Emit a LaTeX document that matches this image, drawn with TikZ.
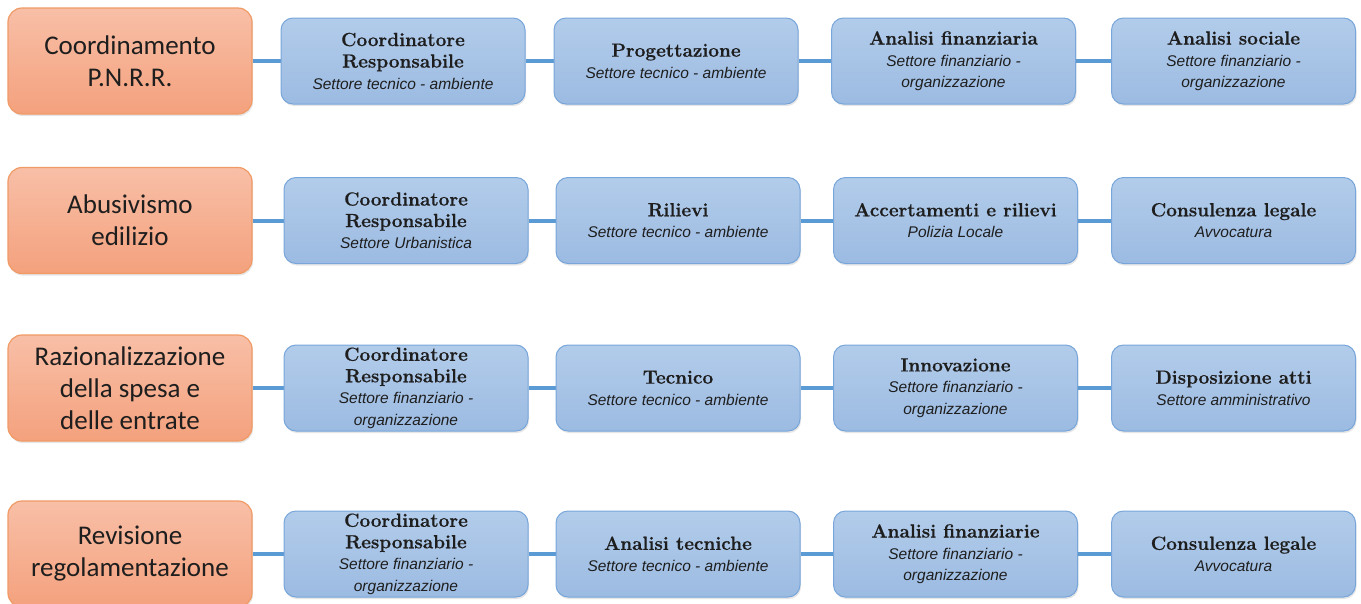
\documentclass[tikz,border=0pt]{standalone}
\usepackage{fontspec}
\setmainfont{Latin Modern Roman}[BoldFeatures={FakeBold=0.6}]
\newfontfamily\orf{Carlito}
\newfontfamily\subf{Liberation Sans}
\usetikzlibrary{backgrounds,shadows}
\definecolor{orTop}{HTML}{F8BFA7}
\definecolor{orBot}{HTML}{F4A17D}
\definecolor{orLine}{HTML}{F09A66}
\definecolor{blTop}{HTML}{B2CCEA}
\definecolor{blBot}{HTML}{9CBBE2}
\definecolor{blLine}{HTML}{78A6DA}
\definecolor{conn}{HTML}{5B9BD5}
\definecolor{txt}{HTML}{1E1E1E}
\newcommand\subt[1]{{\subf\mdseries\itshape\fontsize{15.5}{21}\selectfont #1}}
\tikzset{
  topic/.style={rounded corners=14pt, draw=orLine, line width=1.2pt,
    top color=orTop, bottom color=orBot, minimum width=244pt, minimum height=106pt,
    inner sep=0pt, align=center, text=txt, font=\orf\fontsize{27}{32}\selectfont,
    drop shadow={shadow xshift=1pt, shadow yshift=-2pt, opacity=0.2}},
  task/.style={rounded corners=12pt, draw=blLine, line width=1pt,
    top color=blTop, bottom color=blBot, minimum width=244pt, minimum height=86pt,
    inner sep=0pt, align=center, text=txt, font=\fontsize{19}{21.5}\selectfont\bfseries,
    drop shadow={shadow xshift=1pt, shadow yshift=-2pt, opacity=0.2}},
  link/.style={draw=conn, line width=4pt}
}
\begin{document}
\begin{tikzpicture}[x=1pt,y=-1pt]
\useasboundingbox (0,0) rectangle (1361,603);
% Row 1
\node[topic] (o1) at (130,61) {Coordinamento\\P.N.R.R.};
\node[task] (a1) at (403,61) {Coordinatore\\Responsabile\\\subt{Settore tecnico - ambiente}};
\node[task] (b1) at (676,61) {Progettazione\\\subt{Settore tecnico - ambiente}};
\node[task] (c1) at (953.5,61) {Analisi finanziaria\\\subt{Settore finanziario -}\\\subt{organizzazione}};
\node[task] (d1) at (1233.5,61) {Analisi sociale\\\subt{Settore finanziario -}\\\subt{organizzazione}};
% Row 2
\node[topic] (o2) at (130,220.5) {Abusivismo\\edilizio};
\node[task] (a2) at (406,220.5) {Coordinatore\\Responsabile\\\subt{Settore Urbanistica}};
\node[task] (b2) at (678,220.5) {Rilievi\\\subt{Settore tecnico - ambiente}};
\node[task] (c2) at (955.5,220.5) {Accertamenti e rilievi\\\subt{Polizia Locale}};
\node[task] (d2) at (1233.5,220.5) {Consulenza legale\\\subt{Avvocatura}};
% Row 3
\node[topic] (o3) at (130,388) {Razionalizzazione\\della spesa e\\delle entrate};
\node[task] (a3) at (406,388) {Coordinatore\\Responsabile\\\subt{Settore finanziario -}\\\subt{organizzazione}};
\node[task] (b3) at (678,388) {Tecnico\\\subt{Settore tecnico - ambiente}};
\node[task] (c3) at (955.5,388) {Innovazione\\\subt{Settore finanziario -}\\\subt{organizzazione}};
\node[task] (d3) at (1233.5,388) {Disposizione atti\\\subt{Settore amministrativo}};
% Row 4
\node[topic] (o4) at (130,554) {Revisione\\regolamentazione};
\node[task] (a4) at (406,554) {Coordinatore\\Responsabile\\\subt{Settore finanziario -}\\\subt{organizzazione}};
\node[task] (b4) at (678,554) {Analisi tecniche\\\subt{Settore tecnico - ambiente}};
\node[task] (c4) at (955.5,554) {Analisi finanziarie\\\subt{Settore finanziario -}\\\subt{organizzazione}};
\node[task] (d4) at (1233.5,554) {Consulenza legale\\\subt{Avvocatura}};
\begin{pgfonlayer}{background}
\foreach \r in {1,2,3,4}{
  \draw[link] (o\r.east) -- (a\r.west);
  \draw[link] (a\r.east) -- (b\r.west);
  \draw[link] (b\r.east) -- (c\r.west);
  \draw[link] (c\r.east) -- (d\r.west);
}
\end{pgfonlayer}
\end{tikzpicture}
\end{document}
